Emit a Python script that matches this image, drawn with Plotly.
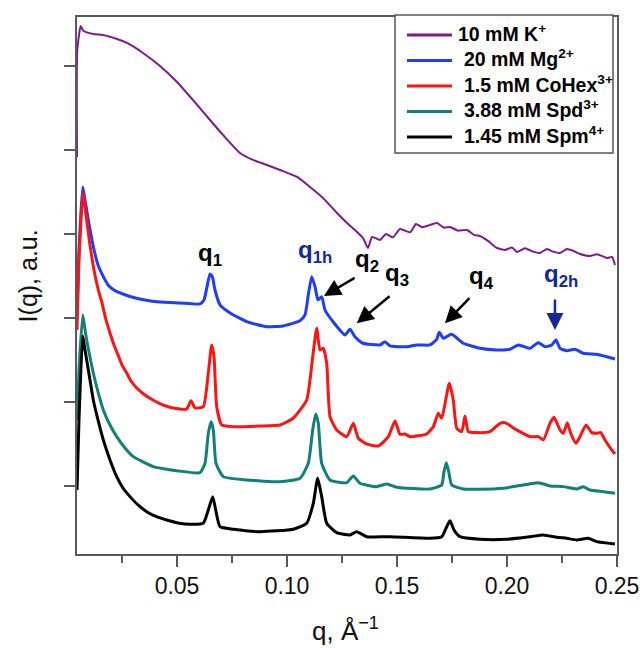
import plotly.graph_objects as go

# ---------------- data ----------------
q_k = [0.00455, 0.00468, 0.00623, 0.00741, 0.01195, 0.01636, 0.02273, 0.02727, 0.03455, 0.04227,
       0.05, 0.05727, 0.065, 0.07091, 0.07864, 0.08455, 0.09091, 0.09682, 0.10455, 0.11045,
       0.11636, 0.12273, 0.12727, 0.13182, 0.13455, 0.13682, 0.13864, 0.14227, 0.145, 0.14818,
       0.15136, 0.15591, 0.15864, 0.16136, 0.165, 0.16818, 0.17136, 0.17409, 0.17773, 0.18182,
       0.185, 0.18773, 0.19136, 0.19545, 0.19909, 0.20227, 0.20455, 0.20818, 0.21182, 0.215,
       0.21818, 0.22091, 0.22409, 0.22727, 0.23, 0.23318, 0.23773, 0.24091, 0.24545, 0.24773,
       0.24909]
i_k = [3.917, 5.190, 5.476, 5.420, 5.381, 5.369, 5.321, 5.274, 5.155, 5.0,
       4.810, 4.595, 4.357, 4.179, 3.964, 3.881, 3.821, 3.762, 3.679, 3.560,
       3.429, 3.25, 3.131, 3.024, 2.952, 2.833, 2.964, 2.929, 3.0, 2.960,
       3.060, 3.020, 3.119, 3.080, 3.107, 3.131, 3.075, 3.083, 3.040, 3.048,
       2.990, 2.976, 2.917, 2.833, 2.810, 2.840, 2.786, 2.830, 2.790, 2.774,
       2.821, 2.790, 2.774, 2.821, 2.800, 2.762, 2.738, 2.760, 2.714, 2.726,
       2.631]

q_mg = [0.00455, 0.00545, 0.00714, 0.00795, 0.00895, 0.01, 0.01136, 0.01273, 0.01409, 0.01545,
        0.01682, 0.01864, 0.02136, 0.02409, 0.02864, 0.03545, 0.04227, 0.05136, 0.06045, 0.06227,
        0.06364, 0.065, 0.06605, 0.06727, 0.06955, 0.07409, 0.08168, 0.09077, 0.09818, 0.10591,
        0.10818, 0.10955, 0.11123, 0.11273, 0.11409, 0.11577, 0.11727, 0.12091, 0.12636, 0.12864,
        0.13091, 0.13455, 0.14227, 0.14455, 0.14682, 0.15441, 0.15895, 0.165, 0.16805, 0.16923,
        0.17105, 0.17486, 0.18014, 0.18773, 0.19532, 0.20136, 0.20514, 0.21045, 0.21423, 0.21727,
        0.22032, 0.22227, 0.22409, 0.22714, 0.23091, 0.23468, 0.24077, 0.24532, 0.24909]
i_mg = [2.0, 2.810, 3.560, 3.440, 3.286, 3.119, 2.929, 2.762, 2.631, 2.548,
        2.476, 2.393, 2.333, 2.298, 2.256, 2.214, 2.190, 2.179, 2.167, 2.214,
        2.373, 2.524, 2.492, 2.333, 2.155, 2.060, 1.956, 1.896, 1.905, 1.968,
        2.036, 2.254, 2.492, 2.373, 2.214, 2.254, 2.095, 1.956, 1.798, 1.865,
        1.777, 1.699, 1.679, 1.718, 1.667, 1.658, 1.679, 1.679, 1.746, 1.830,
        1.758, 1.806, 1.699, 1.639, 1.619, 1.627, 1.679, 1.639, 1.706, 1.658,
        1.679, 1.738, 1.639, 1.611, 1.627, 1.580, 1.568, 1.539, 1.512]

q_co = [0.00455, 0.00545, 0.00727, 0.00864, 0.01045, 0.01227, 0.01423, 0.01591, 0.01773, 0.01955,
        0.02136, 0.02318, 0.025, 0.02714, 0.02909, 0.03168, 0.03545, 0.03909, 0.04364, 0.04818,
        0.05441, 0.05636, 0.05818, 0.06195, 0.06423, 0.06577, 0.06682, 0.06805, 0.07032, 0.07545,
        0.08773, 0.09682, 0.10273, 0.10895, 0.11168, 0.1135, 0.115, 0.1165, 0.11805, 0.11955,
        0.12259, 0.12714, 0.13014, 0.13241, 0.13623, 0.1415, 0.14605, 0.14909, 0.15136, 0.15364,
        0.15591, 0.1635, 0.1665, 0.16877, 0.17032, 0.17377, 0.17559, 0.17714, 0.17941, 0.18091,
        0.18241, 0.18623, 0.19227, 0.19682, 0.19909, 0.20441, 0.21045, 0.21423, 0.2165, 0.21955,
        0.22136, 0.22409, 0.22559, 0.22741, 0.22895, 0.23136, 0.23318, 0.23591, 0.2385, 0.24077,
        0.24259, 0.24455, 0.24759, 0.24909]
i_co = [1.857, 2.690, 3.488, 3.226, 2.869, 2.571, 2.333, 2.179, 1.976, 1.821,
        1.679, 1.560, 1.440, 1.345, 1.25, 1.167, 1.083, 1.024, 0.964, 0.929,
        0.917, 1.015, 0.929, 0.944, 1.345, 1.679, 1.539, 0.944, 0.726, 0.706,
        0.714, 0.726, 0.806, 1.024, 1.539, 1.877, 1.619, 1.639, 1.461, 0.825,
        0.667, 0.587, 0.746, 0.568, 0.5, 0.476, 0.587, 0.774, 0.615, 0.619,
        0.587, 0.619, 0.706, 0.865, 0.806, 1.223, 1.024, 0.687, 0.646, 0.833,
        0.646, 0.635, 0.646, 0.746, 0.754, 0.667, 0.587, 0.587, 0.548, 0.746,
        0.818, 0.667, 0.627, 0.754, 0.627, 0.508, 0.587, 0.726, 0.635, 0.627,
        0.635, 0.548, 0.429, 0.381]

q_spd = [0.00455, 0.00545, 0.00714, 0.00795, 0.00895, 0.01045, 0.01195, 0.01409, 0.0165, 0.01955,
         0.02259, 0.02636, 0.03014, 0.03455, 0.03923, 0.04455, 0.04986, 0.06045, 0.06273, 0.06423,
         0.06545, 0.0665, 0.06773, 0.07105, 0.08168, 0.09682, 0.10591, 0.10968, 0.11168, 0.11305,
         0.11423, 0.11577, 0.11955, 0.12714, 0.13014, 0.13318, 0.14077, 0.14532, 0.14986, 0.165,
         0.17032, 0.17136, 0.17241, 0.1735, 0.17486, 0.18014, 0.18773, 0.19832, 0.20741, 0.21423,
         0.21955, 0.22559, 0.23168, 0.23468, 0.23773, 0.24377, 0.24909]
i_spd = [0.786, 1.381, 2.036, 1.905, 1.738, 1.536, 1.345, 1.119, 0.905, 0.726,
         0.587, 0.452, 0.349, 0.286, 0.230, 0.202, 0.182, 0.158, 0.270, 0.627,
         0.765, 0.667, 0.270, 0.111, 0.071, 0.051, 0.092, 0.270, 0.667, 0.857,
         0.746, 0.270, 0.071, 0.039, 0.119, 0.032, -0.008, 0.024, -0.015, -0.036,
         0.012, 0.170, 0.277, 0.170, 0.012, -0.036, -0.039, -0.027, 0.012, 0.039,
         0.0, -0.008, -0.036, -0.008, -0.048, -0.068, -0.087]

q_spm = [0.00455, 0.00545, 0.00714, 0.00795, 0.00895, 0.01045, 0.01195, 0.01409, 0.0165, 0.01955,
         0.02259, 0.02545, 0.02864, 0.03227, 0.03623, 0.04045, 0.04532, 0.05045, 0.05591, 0.06195,
         0.06423, 0.06623, 0.06759, 0.06955, 0.07559, 0.08773, 0.10286, 0.10895, 0.11195, 0.11395,
         0.11577, 0.11805, 0.12259, 0.12864, 0.13168, 0.13623, 0.14682, 0.165, 0.17032, 0.17259,
         0.17409, 0.17591, 0.17864, 0.18773, 0.19986, 0.21045, 0.2165, 0.22259, 0.22714, 0.23168,
         0.23695, 0.24077, 0.24909]
i_spm = [-0.048, 0.786, 1.786, 1.655, 1.5, 1.262, 1.024, 0.786, 0.548, 0.310,
         0.111, -0.024, -0.127, -0.226, -0.306, -0.363, -0.405, -0.440, -0.456, -0.444,
         -0.286, -0.127, -0.286, -0.485, -0.515, -0.544, -0.515, -0.444, -0.206, 0.092,
         -0.127, -0.444, -0.556, -0.583, -0.544, -0.604, -0.604, -0.623, -0.604, -0.485,
         -0.413, -0.524, -0.604, -0.635, -0.635, -0.604, -0.583, -0.611, -0.623, -0.643,
         -0.623, -0.663, -0.690]

series_names = ["10 mM K<sup>+</sup>", "20 mM Mg<sup>2+</sup>",
                "1.5 mM CoHex<sup>3+</sup>", "3.88 mM Spd<sup>3+</sup>",
                "1.45 mM Spm<sup>4+</sup>"]
series_colors = ["#7b1c8a", "#1f3dff", "#ff1414", "#137f79", "#000000"]
series_widths = [2, 3, 3, 3, 3]

x_ticks = [0.05, 0.10, 0.15, 0.20, 0.25]
x_minor = [0.025, 0.075, 0.125, 0.175, 0.225]
y_ticks = [0, 1, 2, 3, 4, 5]

# peak labels: (text, x, y, color)
peak_labels = [
    ("q<sub>1</sub>", 0.065, 2.76, "#000000"),
    ("q<sub>1h</sub>", 0.1127, 2.79, "#14289a"),
    ("q<sub>2</sub>", 0.1364, 2.68, "#000000"),
    ("q<sub>3</sub>", 0.1500, 2.52, "#000000"),
    ("q<sub>4</sub>", 0.1882, 2.48, "#000000"),
    ("q<sub>2h</sub>", 0.2245, 2.51, "#14289a"),
]
# arrows: (head x, head y, tail x, tail y, color)
arrows = [
    (0.1168, 2.262, 0.1314, 2.488, "#000000"),
    (0.1317, 1.937, 0.1473, 2.274, "#000000"),
    (0.1718, 1.937, 0.1836, 2.254, "#000000"),
    (0.2218, 1.857, 0.2218, 2.238, "#14289a"),
]

# ---------------- figure ----------------
FONT = "Arial, Liberation Sans, Helvetica, sans-serif"
fig = go.Figure()
all_q = [q_k, q_mg, q_co, q_spd, q_spm]
all_i = [i_k, i_mg, i_co, i_spd, i_spm]
for k in range(5):
    fig.add_trace(go.Scatter(
        x=all_q[k], y=all_i[k], mode="lines", name=series_names[k],
        showlegend=False,
        line=dict(color=series_colors[k], width=series_widths[k],
                  shape="spline", smoothing=0.5),
    ))

for txt, x, y, c in peak_labels:
    fig.add_annotation(x=x, y=y, xref="x", yref="y", text=f"<b>{txt}</b>",
                       showarrow=False, font=dict(family=FONT, size=24, color=c),
                       xanchor="center", yanchor="middle")
for hx, hy, tx, ty, c in arrows:
    fig.add_annotation(x=hx, y=hy, ax=tx, ay=ty, xref="x", yref="y",
                       axref="x", ayref="y", text="", showarrow=True,
                       arrowhead=2, arrowsize=1.35, arrowwidth=2.5, arrowcolor=c,
                       standoff=0, startstandoff=0)

# ---- legend box (drawn in paper coordinates) ----
fig.add_shape(type="rect", xref="paper", yref="paper",
              x0=0.5889, x1=0.9926, y0=0.7467, y1=1.0037,
              line=dict(color="#555555", width=1.5), fillcolor="white", layer="above")
row_y = [0.9665, 0.9190, 0.8715, 0.8240, 0.7765]
text_x = [0.7019, 0.7130, 0.7130, 0.7130, 0.7130]
for k in range(5):
    fig.add_shape(type="line", xref="paper", yref="paper",
                  x0=0.6111, x1=0.6944, y0=row_y[k], y1=row_y[k],
                  line=dict(color=series_colors[k], width=3), layer="above")
    fig.add_annotation(x=text_x[k], y=row_y[k] + 0.004, xref="paper", yref="paper",
                       text=f"<b>{series_names[k]}</b>", showarrow=False,
                       font=dict(family=FONT, size=19.5, color="#000000"),
                       xanchor="left", yanchor="middle")

# axis titles as annotations
fig.add_annotation(x=-0.0907, y=0.517, xref="paper", yref="paper",
                   text="I(q), a.u.", textangle=-90, showarrow=False,
                   font=dict(family=FONT, size=25, color="#111111"),
                   xanchor="center", yanchor="middle")
fig.add_annotation(x=0.4963, y=-0.1415, xref="paper", yref="paper",
                   text="q, Å<sup>−1</sup>", showarrow=False,
                   font=dict(family=FONT, size=26, color="#111111"),
                   xanchor="center", yanchor="middle")

axis_col = "#5a5a5a"
fig.update_xaxes(range=[0.004545, 0.25], tickvals=x_ticks, tickformat=".2f",
                 ticks="outside", ticklen=11, tickwidth=1.5, tickcolor=axis_col,
                 showline=True, linecolor=axis_col, linewidth=1.5, mirror=True,
                 showgrid=False, zeroline=False, automargin=False,
                 tickfont=dict(family=FONT, size=23, color="#111111"),
                 minor=dict(tickvals=x_minor, ticks="outside", ticklen=7,
                            tickwidth=1.5, tickcolor=axis_col, showgrid=False))
fig.update_yaxes(range=[-0.81, 5.583], tickvals=y_ticks, showticklabels=False,
                 ticks="outside", ticklen=11, tickwidth=1.5, tickcolor=axis_col,
                 showline=True, linecolor=axis_col, linewidth=1.5, mirror=True,
                 showgrid=False, zeroline=False, automargin=False)

fig.update_layout(
    width=640, height=648,
    margin=dict(l=77, r=23, t=17, b=94, autoexpand=False),
    paper_bgcolor="white", plot_bgcolor="white",
    showlegend=False,
    font=dict(family=FONT),
)

fig.write_html("out.html")
